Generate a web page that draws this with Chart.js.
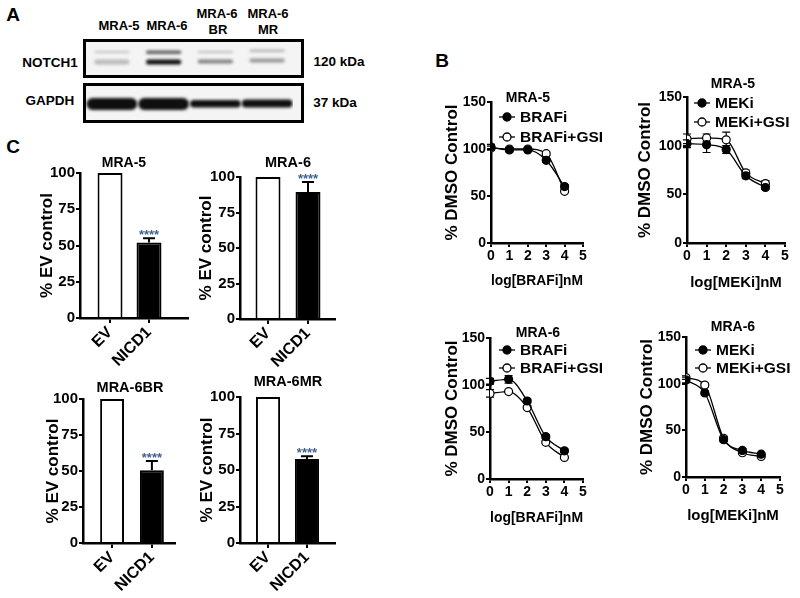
<!DOCTYPE html>
<html>
<head>
<meta charset="utf-8">
<script src="https://cdn.jsdelivr.net/npm/chart.js@4.4.1/dist/chart.umd.min.js"></script>
<style>
  body { margin: 0; }
  #fig { position: relative; width: 800px; height: 598px; background: #fff; overflow: hidden;
         font-family: 'Liberation Sans', Arial, sans-serif; font-weight: bold; color: #000; }
  .t { position: absolute; transform: translate(-50%, -50%); white-space: nowrap; line-height: 1; font-size: 14px; }
  .c { position: absolute; }
  .blot { position: absolute; border: 3px solid #000; background: #f4f4f4; overflow: hidden; }
  .blot canvas { position: absolute; left: 0; top: 0; }
</style>
</head>
<body>
<div id="fig">
  <div class="t" style="left:13px;top:14px;font-size:19px">A</div>
  <div class="t" style="left:442px;top:60px;font-size:19px">B</div>
  <div class="t" style="left:13px;top:146px;font-size:19px">C</div>

  <div class="t" style="left:119px;top:25px;font-size:13px">MRA-5</div>
  <div class="t" style="left:167px;top:25px;font-size:13px">MRA-6</div>
  <div class="t" style="left:217px;top:13px;font-size:13px">MRA-6</div>
  <div class="t" style="left:218px;top:29px;font-size:13px">BR</div>
  <div class="t" style="left:268px;top:13px;font-size:13px">MRA-6</div>
  <div class="t" style="left:268px;top:29px;font-size:13px">MR</div>
  <div class="t" style="left:50px;top:63px;font-size:13.5px">NOTCH1</div>
  <div class="t" style="left:50px;top:101px;font-size:13.5px">GAPDH</div>
  <div class="t" style="left:339px;top:62px;font-size:13.5px">120 kDa</div>
  <div class="t" style="left:335px;top:103px;font-size:13.5px">37 kDa</div>

  <div class="blot" style="left:83px;top:39px;width:215px;height:33px"><canvas id="notch" width="207" height="33"></canvas></div>
  <div class="blot" style="left:83px;top:83px;width:215px;height:34px"><canvas id="gapdh" width="207" height="34"></canvas></div>

  <canvas id="b1" class="c" width="161" height="201" style="left:444px;top:87px"></canvas>
  <canvas id="b2" class="c" width="161" height="208" style="left:637px;top:82px"></canvas>
  <canvas id="b3" class="c" width="161" height="202" style="left:444px;top:323px"></canvas>
  <canvas id="b4" class="c" width="156" height="201" style="left:639px;top:322px"></canvas>

  <canvas id="c1" class="c" width="154" height="212" style="left:39px;top:158px"></canvas>
  <canvas id="c2" class="c" width="142" height="208" style="left:198px;top:162px"></canvas>
  <canvas id="c3" class="c" width="135" height="214" style="left:45px;top:384px"></canvas>
  <canvas id="c4" class="c" width="141" height="216" style="left:199px;top:382px"></canvas>

  <div class="t" style="left:528px;top:97px">MRA-5</div>
  <div class="t" style="left:733px;top:83px">MRA-5</div>
  <div class="t" style="left:538px;top:332px">MRA-6</div>
  <div class="t" style="left:733px;top:326px">MRA-6</div>
  <div class="t" style="left:124px;top:162px;font-size:14px">MRA-5</div>
  <div class="t" style="left:288px;top:162px;font-size:14.5px">MRA-6</div>
  <div class="t" style="left:130px;top:387px;font-size:14.5px">MRA-6BR</div>
  <div class="t" style="left:288px;top:381px;font-size:14.5px">MRA-6MR</div>
</div>

<script>
// ---- panel A: western blot bands (migration distance from strip top, px) ----
const lanes = ['MRA-5', 'MRA-6', 'MRA-6 BR', 'MRA-6 MR'];
const notchUpperBand = [[9, 11], [8.5, 12], [9, 11], [7.5, 10]];
const notchUpperDensity = [0.22, 0.65, 0.25, 0.28];
const notchLowerBand = [[17.5, 22.5], [17.5, 22.5], [17.5, 21.5], [16.5, 20.5]];
const notchLowerDensity = [0.25, 1.0, 0.5, 0.4];
const gapdhBand = [[12, 24], [12, 24], [14, 21.5], [13.5, 21.5]];
const gapdhDensity = [1, 1, 1, 1];

// ---- panel B: dose response, % DMSO control ----
const doseLog = [0, 1, 2, 3, 4];
const mra5Braf = [102, 99, 99, 88, 60];
const mra5BrafErr = [3, 2, 1, 2, 2];
const mra5BrafGsi = [101, 100, 100, 95, 55];
const mra5BrafGsiErr = [2, 1, 1, 2, 1];
const mra5Mek = [102, 101, 96, 69, 57];
const mra5MekErr = [4, 8, 4, 3, 2];
const mra5MekGsi = [107, 108, 106, 72, 61];
const mra5MekGsiErr = [5, 4, 8, 3, 3];
const mra6Braf = [104, 106, 83, 45, 30];
const mra6BrafErr = [3, 4, 2, 2, 2];
const mra6BrafGsi = [91, 93, 76, 39, 23];
const mra6BrafGsiErr = [4, 1, 2, 1, 1];
const mra6Mek = [104, 90, 40, 28.5, 24.5];
const mra6MekErr = [3, 2, 2, 2, 1];
const mra6MekGsi = [106.5, 98.5, 41.5, 26, 22];
const mra6MekGsiErr = [2, 2, 2, 1, 1];

// ---- panel C: % EV control ----
const cLabels = ['EV', 'NICD1'];
const evMra5 = [100, 52];
const evMra5Err = [0, 3];
const evMra6 = [100, 89.5];
const evMra6Err = [0, 7];
const evMra6br = [100, 50.5];
const evMra6brErr = [0, 6.5];
const evMra6mr = [100, 57.5];
const evMra6mrErr = [0, 2];
const sigMarks = ['', '****'];

Chart.defaults.font.family = "'Liberation Sans', Arial, sans-serif";
Chart.defaults.font.weight = 'bold';
Chart.defaults.color = '#000';
Chart.defaults.animation = false;
Chart.defaults.plugins.legend.display = false;
Chart.defaults.plugins.tooltip.enabled = false;

const blur = {
    id: 'blur',
    beforeDatasetsDraw(chart) { chart.ctx.save(); chart.ctx.filter = 'blur(1.4px)'; },
    afterDatasetsDraw(chart) { chart.ctx.restore(); }
};

const errorBars = {
    id: 'errorBars',
    beforeDatasetsDraw(chart) {
        const ctx = chart.ctx;
        const ys = chart.scales.y;
        chart.data.datasets.forEach((ds, i) => {
            if (!ds.errors) { return; }
            chart.getDatasetMeta(i).data.forEach((el, j) => {
                const e = ds.errors[j];
                if (!e) { return; }
                const v = ds.data[j].y;
                const hi = ys.getPixelForValue(v + e);
                const lo = ds.errorUp ? el.y : ys.getPixelForValue(v - e);
                const cap = ds.errorCap || 4;
                ctx.save();
                ctx.strokeStyle = '#000';
                ctx.lineWidth = ds.errorUp ? 2 : 1.2;
                ctx.beginPath();
                ctx.moveTo(el.x, hi); ctx.lineTo(el.x, lo);
                ctx.moveTo(el.x - cap, hi); ctx.lineTo(el.x + cap, hi);
                if (!ds.errorUp) { ctx.moveTo(el.x - cap, lo); ctx.lineTo(el.x + cap, lo); }
                ctx.stroke();
                ctx.restore();
            });
        });
    },
    afterDatasetsDraw(chart) {
        const ctx = chart.ctx;
        const ys = chart.scales.y;
        chart.data.datasets.forEach((ds, i) => {
            if (!ds.marks) { return; }
            chart.getDatasetMeta(i).data.forEach((el, j) => {
                if (!ds.marks[j]) { return; }
                const top = ys.getPixelForValue(ds.data[j].y + (ds.errors ? ds.errors[j] : 0));
                ctx.save();
                ctx.fillStyle = '#41618f';
                ctx.font = "bold 13px 'Liberation Sans', Arial, sans-serif";
                ctx.textAlign = 'center';
                ctx.textBaseline = 'alphabetic';
                ctx.fillText(ds.marks[j], el.x, top + 1);
                ctx.restore();
            });
        });
    }
};

const inlineLegend = {
    id: 'inlineLegend',
    afterDraw(chart, args, opts) {
        const { ctx, chartArea } = chart;
        chart.data.datasets.forEach((ds, i) => {
            const x = chartArea.left + opts.x;
            const y = chartArea.top + opts.y + i * opts.gap;
            ctx.save();
            ctx.strokeStyle = '#000';
            ctx.lineWidth = 1.3;
            ctx.beginPath(); ctx.moveTo(x - 8, y); ctx.lineTo(x + 8, y); ctx.stroke();
            ctx.beginPath(); ctx.arc(x, y, 4, 0, Math.PI * 2);
            ctx.fillStyle = ds.pointBackgroundColor; ctx.fill(); ctx.stroke();
            ctx.fillStyle = '#000';
            ctx.font = "bold 15.5px 'Liberation Sans', Arial, sans-serif";
            ctx.textBaseline = 'middle';
            ctx.fillText(ds.label, x + 13, y + 1);
            ctx.restore();
        });
    }
};

function axisStyle() {
    return {
        grid: { drawOnChartArea: false, tickLength: 4, color: '#000', lineWidth: 2 },
        border: { color: '#000', width: 2.5 }
    };
}

function blotChart(id, height, bands) {
    new Chart(document.getElementById(id), {
        type: 'bar',
        data: {
            labels: lanes,
            datasets: bands.map(b => ({
                data: b.range,
                backgroundColor: b.density.map(d => `rgba(15,15,15,${d})`),
                barPercentage: b.width,
                borderRadius: b.round
            }))
        },
        options: {
            responsive: false,
            layout: { padding: 0 },
            datasets: { bar: { grouped: false, categoryPercentage: 1, borderSkipped: false } },
            scales: {
                x: { display: false },
                y: { display: false, reverse: true, min: 0, max: height }
            }
        },
        plugins: [blur]
    });
}

function doseChart(id, drug, series, lay) {
    const ax = axisStyle();
    new Chart(document.getElementById(id), {
        type: 'line',
        data: {
            datasets: series.map(s => ({
                label: s.label,
                data: doseLog.map((x, i) => ({ x: x, y: s.values[i] })),
                errors: s.errors,
                borderColor: '#000',
                borderWidth: 1.3,
                pointRadius: 4,
                pointBackgroundColor: s.open ? '#fff' : '#000',
                pointBorderColor: '#000',
                pointBorderWidth: 1.2,
                cubicInterpolationMode: 'monotone',
                fill: false
            }))
        },
        options: {
            responsive: false,
            layout: { padding: { top: lay.padTop, right: lay.padRight, left: 0, bottom: 0 } },
            plugins: { inlineLegend: lay.legend },
            scales: {
                x: {
                    type: 'linear', min: 0, max: 5,
                    ticks: { stepSize: 1, font: { size: 14 }, padding: 1, maxRotation: 0 },
                    grid: ax.grid, border: ax.border,
                    title: { display: true, text: `log[${drug}]nM`, font: { size: 15, lineHeight: 1 }, padding: 0 },
                    afterFit: s => { s.height = lay.xHeight; }
                },
                y: {
                    min: 0, max: 150,
                    ticks: { stepSize: 50, font: { size: 14 }, padding: 1 },
                    grid: ax.grid, border: ax.border,
                    title: { display: true, text: '% DMSO Control', font: { size: 17, lineHeight: 1 }, padding: 0 },
                    afterFit: s => { s.width = lay.yWidth; }
                }
            }
        },
        plugins: [errorBars, inlineLegend]
    });
}

function evChart(id, values, errors, lay) {
    const ax = axisStyle();
    new Chart(document.getElementById(id), {
        type: 'bar',
        data: {
            datasets: [{
                data: cLabels.map((l, i) => ({ x: i, y: values[i] })),
                errors: errors,
                errorUp: true,
                errorCap: 6,
                marks: sigMarks,
                backgroundColor: ['#fff', '#000'],
                borderColor: '#000',
                borderWidth: 2,
                categoryPercentage: 1,
                barPercentage: lay.barPct
            }]
        },
        options: {
            responsive: false,
            layout: { padding: { top: 15, right: 5, left: 0, bottom: 0 } },
            scales: {
                x: {
                    type: 'linear', min: lay.xMin, max: lay.xMax, offset: false,
                    afterBuildTicks: s => { s.ticks = cLabels.map((l, i) => ({ value: i })); },
                    ticks: { callback: v => cLabels[v], minRotation: 45, maxRotation: 45, autoSkip: false,
                             font: { size: 16 }, padding: 0 },
                    grid: { drawOnChartArea: false, offset: false, tickLength: 5, color: '#000', lineWidth: 2 },
                    border: ax.border,
                    afterFit: s => { s.height = lay.xHeight; }
                },
                y: {
                    min: 0, max: 100,
                    ticks: { stepSize: 25, font: { size: 15 }, padding: 1 },
                    grid: ax.grid, border: ax.border,
                    title: { display: true, text: '% EV control', font: { size: 17, lineHeight: 1 }, padding: 0 },
                    afterFit: s => { s.width = lay.yWidth; }
                }
            }
        },
        plugins: [errorBars]
    });
}

blotChart('notch', 33, [
    { range: notchUpperBand, density: notchUpperDensity, width: 0.68, round: 2 },
    { range: notchLowerBand, density: notchLowerDensity, width: 0.68, round: 3 }
]);
blotChart('gapdh', 34, [
    { range: gapdhBand, density: gapdhDensity, width: 0.98, round: 6 }
]);

doseChart('b1', 'BRAFi', [
    { label: 'BRAFi', values: mra5Braf, errors: mra5BrafErr },
    { label: 'BRAFi+GSI', values: mra5BrafGsi, errors: mra5BrafGsiErr, open: true }
], { yWidth: 47, xHeight: 45, padTop: 15, padRight: 22, legend: { x: 16, y: 15, gap: 20 } });

doseChart('b2', 'MEKi', [
    { label: 'MEKi', values: mra5Mek, errors: mra5MekErr },
    { label: 'MEKi+GSI', values: mra5MekGsi, errors: mra5MekGsiErr, open: true }
], { yWidth: 50, xHeight: 47, padTop: 15, padRight: 13, legend: { x: 15, y: 6, gap: 19 } });

doseChart('b3', 'BRAFi', [
    { label: 'BRAFi', values: mra6Braf, errors: mra6BrafErr },
    { label: 'BRAFi+GSI', values: mra6BrafGsi, errors: mra6BrafGsiErr, open: true }
], { yWidth: 46, xHeight: 46, padTop: 15, padRight: 22, legend: { x: 17, y: 12, gap: 18 } });

doseChart('b4', 'MEKi', [
    { label: 'MEKi', values: mra6Mek, errors: mra6MekErr },
    { label: 'MEKi+GSI', values: mra6MekGsi, errors: mra6MekGsiErr, open: true }
], { yWidth: 47, xHeight: 46, padTop: 15, padRight: 15, legend: { x: 17, y: 13, gap: 18 } });

evChart('c1', evMra5, evMra5Err, { yWidth: 41, xHeight: 52, xMin: -0.77, xMax: 2.0, barPct: 0.64 });
evChart('c2', evMra6, evMra6Err, { yWidth: 42, xHeight: 51, xMin: -0.7, xMax: 1.675, barPct: 0.625 });
evChart('c3', evMra6br, evMra6brErr, { yWidth: 38, xHeight: 55, xMin: -0.73, xMax: 1.58, barPct: 0.6 });
evChart('c4', evMra6mr, evMra6mrErr, { yWidth: 41, xHeight: 55, xMin: -0.72, xMax: 1.72, barPct: 0.62 });
</script>
</body>
</html>
